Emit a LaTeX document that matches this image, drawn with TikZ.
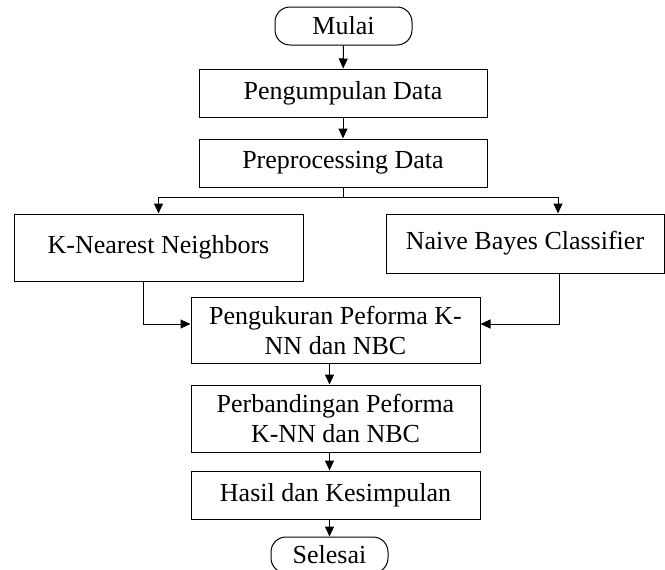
\documentclass[tikz,border=0pt]{standalone}
\usepackage{fontspec}
\setmainfont{Liberation Serif}
\usepackage{tikz}
\usetikzlibrary{positioning,arrows.meta,calc}
\tikzset{
  stepbox/.style={
    rectangle, draw=black, fill=white, line width=1pt,
    inner sep=0pt, align=center,
    font=\fontsize{26}{30}\selectfont
  },
  termbox/.style={
    rectangle, rounded corners=15pt, draw=black, fill=white, line width=1pt,
    inner sep=0pt, minimum width=117pt, minimum height=36pt,
    font=\fontsize{26}{30}\selectfont
  },
  arr/.style={
    -{Triangle[length=10pt,width=9pt]}, line width=1pt, black
  },
  line/.style={
    line width=1pt, black
  }
}

\begin{document}
\begin{tikzpicture}[x=1pt,y=-1pt]
\useasboundingbox (0,0) rectangle (665,570);

% start and end
\node[termbox, minimum width=137pt, minimum height=38pt] (mulai) at (343.5,26) {Mulai};
\node[termbox] (selesai) at (329.5,555) {Selesai};

% main steps
\node[stepbox, minimum width=288pt, minimum height=48pt] (kumpul) at (343,93) {Pengumpulan Data};
\node[stepbox, minimum width=288pt, minimum height=48pt] (prep) at (343,163) {Preprocessing Data};
\node[stepbox, minimum width=289pt, minimum height=67pt] (knn) at (158.5,247.5) {K-Nearest Neighbors};
\node[stepbox, minimum width=278pt, minimum height=59pt] (nbc) at (525,243.5) {Naive Bayes Classifier};
\node[stepbox, minimum width=289pt, minimum height=66pt] (ukur) at (335.5,330) {Pengukuran Peforma K-\\NN dan NBC};
\node[stepbox, minimum width=289pt, minimum height=67pt] (banding) at (335.5,418.5) {Perbandingan Peforma\\K-NN dan NBC};
\node[stepbox, minimum width=289pt, minimum height=48pt] (hasil) at (335.5,495) {Hasil dan Kesimpulan};

\coordinate (split) at (343,197);

\draw[arr] (mulai) -- (kumpul);
\draw[arr] (kumpul) -- (prep);
\draw[line] (prep.south) -- (split);
\draw[arr] (split) -| (knn.north);
\draw[arr] (split) -| ([xshift=33pt]nbc.north);
\draw[arr] ([xshift=-15.5pt]knn.south) |- ([yshift=6pt]ukur.west);
\draw[arr] ([xshift=34pt]nbc.south) |- ([yshift=6pt]ukur.east);
\draw[arr] (ukur.south -| selesai) -- (banding.north -| selesai);
\draw[arr] (banding.south -| selesai) -- (hasil.north -| selesai);
\draw[arr] (hasil.south -| selesai) -- (selesai);
\end{tikzpicture}
\end{document}
